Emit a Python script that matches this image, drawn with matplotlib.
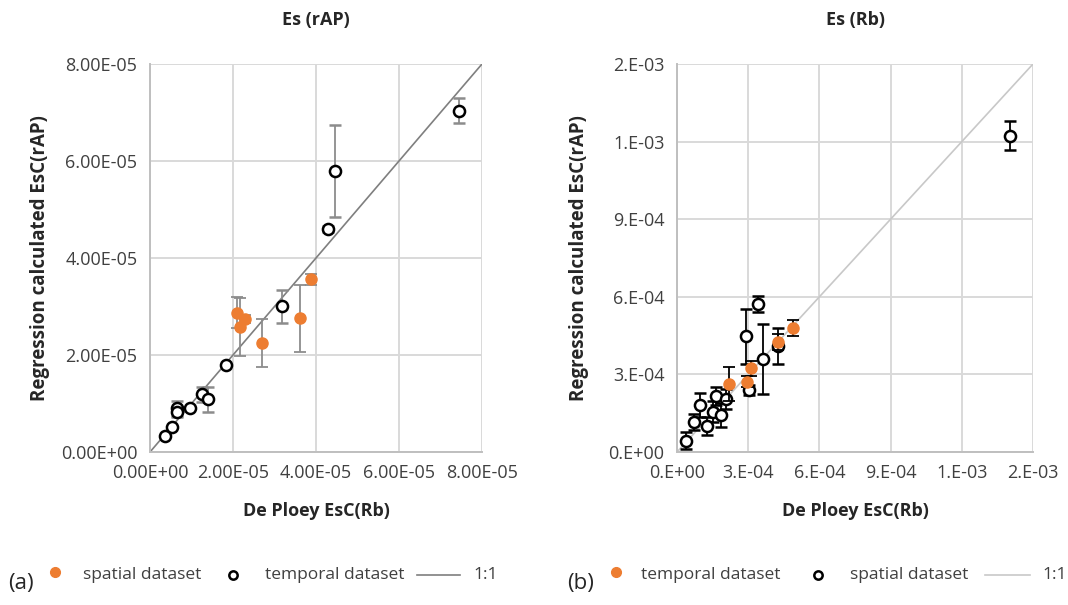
import matplotlib
matplotlib.use("Agg")
import matplotlib.pyplot as plt
from matplotlib.lines import Line2D

plt.rcParams['font.family'] = ['Open Sans', 'DejaVu Sans']

ORANGE = "#ED7D31"

# (a) Es (rAP) -- spatial dataset (filled)
a_sp_x = [2.10e-5, 2.29e-5, 2.18e-5, 2.69e-5, 3.61e-5, 3.87e-5]
a_sp_y = [2.87e-5, 2.74e-5, 2.57e-5, 2.25e-5, 2.76e-5, 3.56e-5]
a_sp_err = [0.32e-5, 0.08e-5, 0.60e-5, 0.50e-5, 0.69e-5, 0.12e-5]

# (a) temporal dataset (open)
a_tm_x = [0.36e-5, 0.52e-5, 0.65e-5, 0.66e-5, 0.96e-5, 1.26e-5, 1.39e-5,
          1.82e-5, 3.19e-5, 4.28e-5, 4.46e-5, 7.45e-5]
a_tm_y = [0.32e-5, 0.52e-5, 0.90e-5, 0.82e-5, 0.91e-5, 1.19e-5, 1.09e-5,
          1.79e-5, 3.01e-5, 4.59e-5, 5.80e-5, 7.04e-5]
a_tm_err = [0.0, 0.0, 0.15e-5, 0.10e-5, 0.0, 0.16e-5, 0.26e-5,
            0.0, 0.34e-5, 0.06e-5, 0.95e-5, 0.25e-5]

# (b) Es (Rb) -- temporal dataset (filled)
b_tm_x = [0.221e-3, 0.294e-3, 0.312e-3, 0.427e-3, 0.490e-3]
b_tm_y = [0.263e-3, 0.272e-3, 0.323e-3, 0.426e-3, 0.480e-3]
b_tm_err = [0.066e-3, 0.02e-3, 0.03e-3, 0.03e-3, 0.03e-3]

# (b) spatial dataset (open)
b_sp_x = [0.038e-3, 0.072e-3, 0.097e-3, 0.125e-3, 0.153e-3, 0.164e-3, 0.185e-3,
          0.205e-3, 0.291e-3, 0.303e-3, 0.343e-3, 0.364e-3, 0.427e-3, 1.403e-3]
b_sp_y = [0.044e-3, 0.115e-3, 0.182e-3, 0.102e-3, 0.156e-3, 0.218e-3, 0.143e-3,
          0.205e-3, 0.448e-3, 0.240e-3, 0.572e-3, 0.358e-3, 0.410e-3, 1.223e-3]
b_sp_err = [0.034e-3, 0.03e-3, 0.048e-3, 0.035e-3, 0.04e-3, 0.035e-3, 0.045e-3,
            0.04e-3, 0.106e-3, 0.02e-3, 0.03e-3, 0.135e-3, 0.068e-3, 0.055e-3]

a_ticks = [0, 2e-5, 4e-5, 6e-5, 8e-5]
a_ticklabels = ["0.00E+00", "2.00E-05", "4.00E-05", "6.00E-05", "8.00E-05"]
b_ticks = [0, 3e-4, 6e-4, 9e-4, 1.2e-3, 1.5e-3]
b_ticklabels = ["0.E+00", "3.E-04", "6.E-04", "9.E-04", "1.E-03", "2.E-03"]

a_legend = ["spatial dataset", "temporal dataset", "1:1"]
b_legend = ["temporal dataset", "spatial dataset", "1:1"]

W, H = 1068, 605
fig = plt.figure(figsize=(W / 100, H / 100), dpi=100)
ax1 = fig.add_axes([150 / W, 1 - 452 / H, 332 / W, 388 / H])
ax2 = fig.add_axes([677 / W, 1 - 452 / H, 356 / W, 388 / H])

TXT = "#404040"


def style(ax, ticks, labels, title, ypad):
    ax.set_xlim(ticks[0], ticks[-1])
    ax.set_ylim(ticks[0], ticks[-1])
    ax.set_xticks(ticks)
    ax.set_yticks(ticks)
    ax.set_xticklabels(labels)
    ax.set_yticklabels(labels)
    ax.tick_params(length=0, labelsize=13, colors=TXT, pad=9)
    ax.grid(True, color="#d9d9d9", lw=1.4)
    ax.set_axisbelow(True)
    for s in ["top", "right"]:
        ax.spines[s].set_visible(False)
    for s in ["left", "bottom"]:
        ax.spines[s].set_color("#bfbfbf")
        ax.spines[s].set_linewidth(1.4)
    ax.set_title(title, fontsize=13, fontweight="bold", color="#262626", pad=28)
    ax.set_xlabel("De Ploey EsC(Rb)", fontsize=13, fontweight="bold",
                  color="#262626", labelpad=14)
    ax.set_ylabel("Regression calculated EsC(rAP)", fontsize=13.5,
                  fontweight="bold", color="#262626", labelpad=ypad)


style(ax1, a_ticks, a_ticklabels, "Es (rAP)", 8)
style(ax2, b_ticks, b_ticklabels, "Es (Rb)", 14)

# (a)
ax1.plot([0, 8e-5], [0, 8e-5], color="#7f7f7f", lw=1.2, zorder=2)
ax1.errorbar(a_sp_x, a_sp_y, yerr=a_sp_err, fmt="o", ms=8, color=ORANGE,
             ecolor="#8c8c8c", elinewidth=1.3, capsize=4, capthick=1.3, zorder=3)
ax1.errorbar(a_tm_x, a_tm_y, yerr=a_tm_err, fmt="o", ms=8, mfc="white",
             mec="black", mew=1.8, ecolor="#8c8c8c", elinewidth=1.3,
             capsize=4, capthick=1.3, zorder=4)

# (b)
ax2.plot([0, 1.5e-3], [0, 1.5e-3], color="#c8c8c8", lw=1.2, zorder=2)
ax2.errorbar(b_sp_x, b_sp_y, yerr=b_sp_err, fmt="o", ms=8, mfc="white",
             mec="black", mew=1.8, ecolor="black", elinewidth=1.3,
             capsize=4, capthick=1.3, zorder=3)
ax2.errorbar(b_tm_x, b_tm_y, yerr=b_tm_err, fmt="o", ms=8, color=ORANGE,
             ecolor="black", elinewidth=1.3, capsize=4, capthick=1.3, zorder=4)


# legends, laid out in figure pixels
def fx(px):
    return px / W


def fy(py):
    return 1 - py / H


def legend_row(x0, labels, line_color, tag, pos):
    # pos: dot, text1, circle, text2, line start, line end, text3 (offsets from x0)
    fig.text(fx(x0), fy(583), tag, fontsize=16, color="#262626", va="center")
    fig.add_artist(Line2D([fx(x0 + pos[0])], [fy(572)], ls="none", marker="o",
                          ms=7, color=ORANGE, transform=fig.transFigure))
    fig.text(fx(x0 + pos[1]), fy(575), labels[0], fontsize=12.5, color=TXT, va="center")
    fig.add_artist(Line2D([fx(x0 + pos[2])], [fy(575)], ls="none", marker="o",
                          ms=6, mfc="white", mec="black", mew=1.8,
                          transform=fig.transFigure))
    fig.text(fx(x0 + pos[3]), fy(575), labels[1], fontsize=12.5, color=TXT, va="center")
    fig.add_artist(Line2D([fx(x0 + pos[4]), fx(x0 + pos[5])], [fy(575), fy(575)],
                          color=line_color, lw=1.2, transform=fig.transFigure))
    fig.text(fx(x0 + pos[6]), fy(575), labels[2], fontsize=12.5, color=TXT, va="center")


legend_row(8, a_legend, "#7f7f7f", "(a)", [47, 75, 225, 257, 409, 452, 465])
legend_row(567, b_legend, "#c8c8c8", "(b)", [49, 74, 251, 283, 418, 463, 475])

fig.savefig("out.png", dpi=100)
